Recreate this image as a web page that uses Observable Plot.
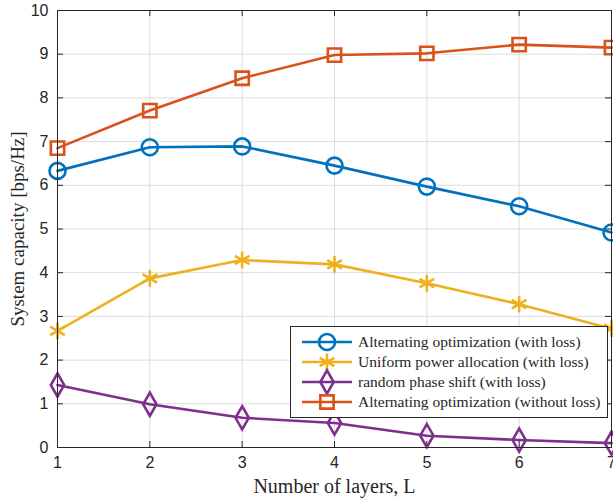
<!DOCTYPE html>
<html>
<head>
<meta charset="utf-8">
<script src="https://cdn.jsdelivr.net/npm/d3@7"></script>
<script src="https://cdn.jsdelivr.net/npm/@observablehq/plot@0.6"></script>
<style>
  body { margin: 0; background: #fff; }
  #wrap { position: relative; width: 613px; height: 504px; overflow: hidden; }
  #legend { position: absolute; left: 290px; top: 326px; }
</style>
</head>
<body>
<div id="wrap"></div>
<script>
// ---- data ----
const layers = [1, 2, 3, 4, 5, 6, 7];
const altOptLoss = [6.33, 6.87, 6.89, 6.45, 5.97, 5.52, 4.92];
const uniformPowerLoss = [2.67, 3.87, 4.29, 4.19, 3.76, 3.28, 2.72];
const randomPhaseLoss = [1.43, 0.99, 0.68, 0.56, 0.27, 0.17, 0.10];
const altOptNoLoss = [6.85, 7.71, 8.45, 8.98, 9.02, 9.22, 9.15];
const seriesNames = [
  "Alternating optimization (with loss)",
  "Uniform power allocation (with loss)",
  "random phase shift (with loss)",
  "Alternating optimization (without loss)"
];
const xTicks = [1, 2, 3, 4, 5, 6, 7];
const yTicks = [0, 1, 2, 3, 4, 5, 6, 7, 8, 9, 10];
const xTitle = "Number of layers, L";
const yTitle = "System capacity [bps/Hz]";

// ---- styles (separate from data) ----
const seriesValues = [altOptLoss, uniformPowerLoss, randomPhaseLoss, altOptNoLoss];
const colors = ["#0072BD", "#EDB120", "#7E2F8E", "#D95319"];
const symbols = ["circle", "asterisk", "diamond", "square"];
const radii = [8, 8, 7, 7.5];
const d3Symbols = {circle: d3.symbolCircle, asterisk: d3.symbolAsterisk, diamond: d3.symbolDiamond, square: d3.symbolSquare};

const W = 613, H = 504, mL = 57, mR = 2, mT = 10, mB = 57;
const plotW = W - mL - mR, plotH = H - mT - mB, tickLen = 6;
const axisColor = "#262626";
const sans = "Liberation Sans, Arial, sans-serif";
const serif = "Liberation Serif, Times New Roman, serif";

const seriesMarks = seriesValues.flatMap((vals, i) => {
  const rows = layers.map((x, j) => ({x, y: vals[j]}));
  return [
    Plot.line(rows, {x: "x", y: "y", stroke: colors[i], strokeWidth: 2.6}),
    Plot.dot(rows, {x: "x", y: "y", symbol: symbols[i], r: radii[i], stroke: colors[i], fill: "none", strokeWidth: 2.6})
  ];
});

const chart = Plot.plot({
  width: W, height: H,
  marginLeft: mL, marginRight: mR, marginTop: mT, marginBottom: mB,
  x: {domain: [1, 7]},
  y: {domain: [0, 10]},
  style: {background: "white", overflow: "visible"},
  marks: [
    Plot.gridX(xTicks, {stroke: "#dcdcdc", strokeOpacity: 1, strokeWidth: 1}),
    Plot.gridY(yTicks, {stroke: "#dcdcdc", strokeOpacity: 1, strokeWidth: 1}),
    Plot.tickX(xTicks, {x: d => d, insetTop: plotH - tickLen, stroke: axisColor}),
    Plot.tickX(xTicks, {x: d => d, insetBottom: plotH - tickLen, stroke: axisColor}),
    Plot.tickY(yTicks, {y: d => d, insetRight: plotW - tickLen, stroke: axisColor}),
    Plot.tickY(yTicks, {y: d => d, insetLeft: plotW - tickLen, stroke: axisColor}),
    Plot.axisX(xTicks, {tickSize: 0, tickPadding: 9, label: null, fontSize: 16, fontFamily: sans, fill: axisColor}),
    Plot.axisY(yTicks, {tickSize: 0, tickPadding: 9, label: null, fontSize: 16, fontFamily: sans, fill: axisColor}),
    ...seriesMarks,
    Plot.frame({stroke: axisColor, strokeWidth: 1}),
    Plot.text([xTitle], {text: d => d, frameAnchor: "bottom", textAnchor: "middle", dy: 45, fontFamily: serif, fontSize: 20, fill: axisColor}),
    Plot.text([yTitle], {text: d => d, frameAnchor: "left", textAnchor: "middle", dx: -40, rotate: -90, fontFamily: serif, fontSize: 19, fill: axisColor})
  ]
});
const wrap = document.getElementById("wrap");
wrap.appendChild(chart);

// ---- legend ----
const LW = 318, LH = 92;
const leg = d3.select(wrap).append("svg").attr("id", "legend")
  .attr("width", LW).attr("height", LH);
leg.append("rect").attr("x", 0.5).attr("y", 0.5).attr("width", LW - 1).attr("height", LH - 1)
  .attr("fill", "white").attr("stroke", axisColor).attr("stroke-width", 1);
seriesNames.forEach((name, i) => {
  const cy = 16 + i * 20;
  const g = leg.append("g").attr("transform", `translate(0,${cy})`);
  g.append("line").attr("x1", 12).attr("x2", 62).attr("y1", 0).attr("y2", 0)
    .attr("stroke", colors[i]).attr("stroke-width", 2.6);
  g.append("path").attr("transform", "translate(37,0)")
    .attr("d", d3.symbol(d3Symbols[symbols[i]], Math.PI * radii[i] * radii[i])())
    .attr("fill", "none").attr("stroke", colors[i]).attr("stroke-width", 2.6);
  g.append("text").attr("x", 68).attr("y", 0).attr("dy", "0.35em")
    .attr("font-family", serif).attr("font-size", 15.5).attr("fill", axisColor).text(name);
});
</script>
</body>
</html>
